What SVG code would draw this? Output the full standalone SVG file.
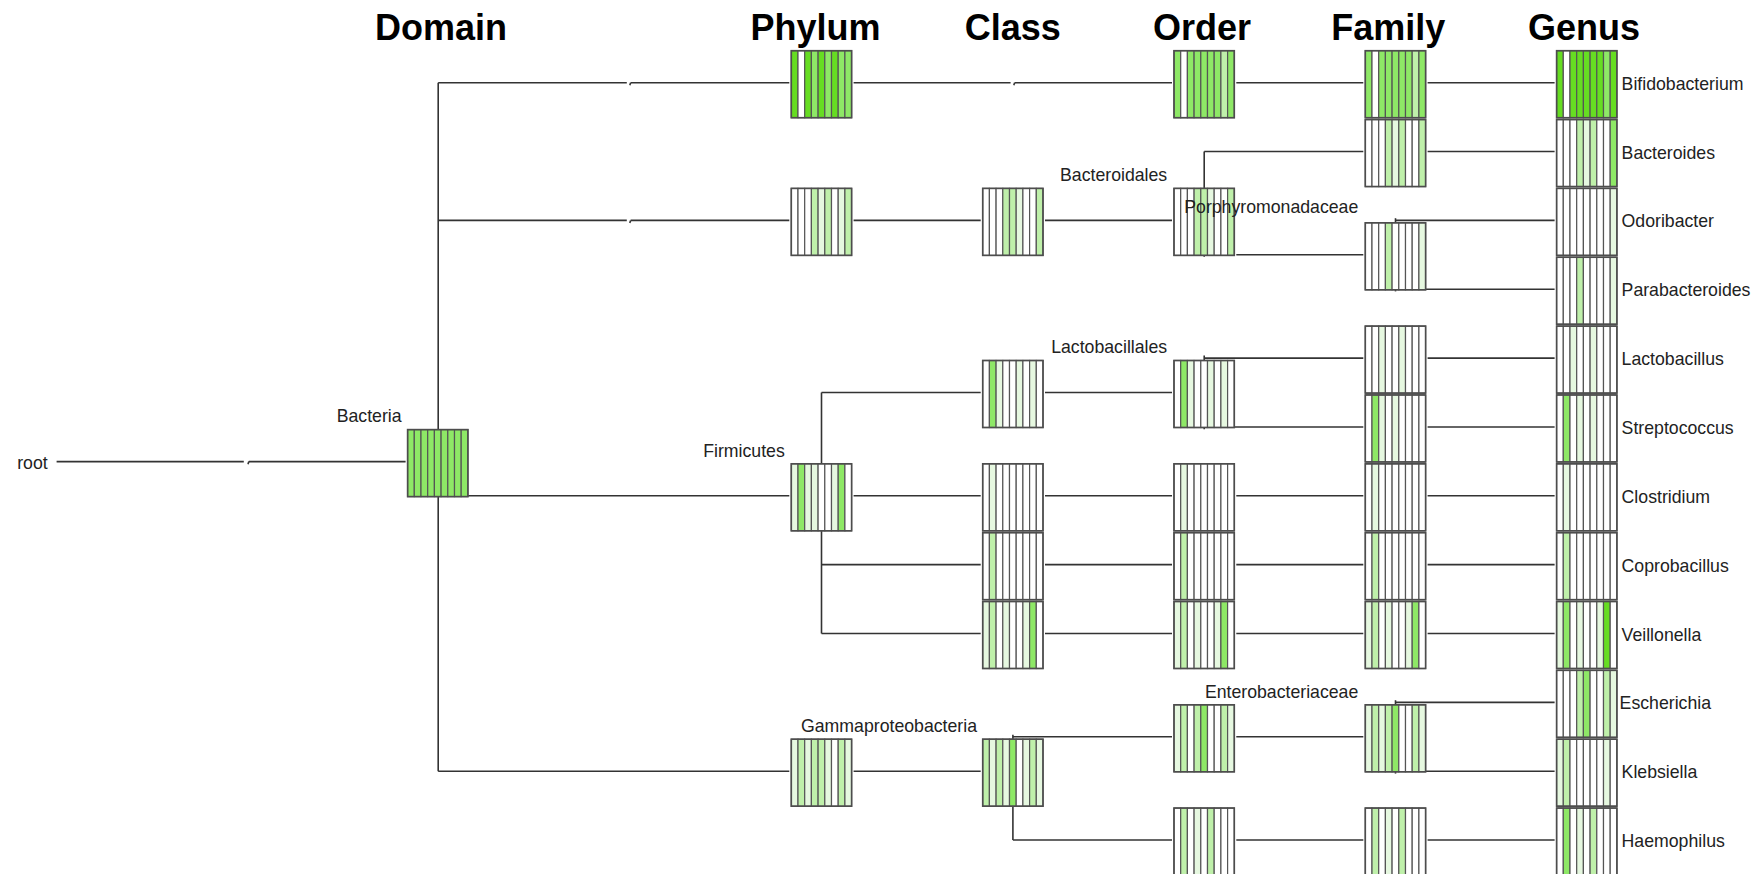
<svg xmlns="http://www.w3.org/2000/svg" width="1755" height="874" viewBox="0 0 1755 874">
<style>
.hdr{font-family:"Liberation Sans",Arial,sans-serif;font-weight:bold;font-size:36px;fill:#000}
.lbl{font-family:"Liberation Sans",Arial,sans-serif;font-size:17.7px;fill:#222}
.lblE{font-family:"Liberation Sans",Arial,sans-serif;font-size:17.7px;fill:#222;text-anchor:end}
.conn line{stroke:#333;stroke-width:1.6;stroke-linecap:butt}
.st{stroke:#555;stroke-width:1.2}
.B{fill:#66dd22}.M{fill:#8ee866}.L{fill:#bff0aa}.V{fill:#e6f8e0}.W{fill:#fff}
.frame{fill:none;stroke:#4d4d4d;stroke-width:1.6}
</style>
<defs>
<rect id="sB" class="st B" width="6.7" height="67"/>
<rect id="sM" class="st M" width="6.7" height="67"/>
<rect id="sL" class="st L" width="6.7" height="67"/>
<rect id="sV" class="st V" width="6.7" height="67"/>
<rect id="sW" class="st W" width="6.7" height="67"/>
<rect id="frame" class="frame" width="60.3" height="67"/>
</defs>
<rect width="1755" height="874" fill="#fff"/>

<g id="headers">
<text class="hdr" x="375" y="40">Domain</text>
<text class="hdr" x="750.4" y="40">Phylum</text>
<text class="hdr" x="964.7" y="40">Class</text>
<text class="hdr" x="1153" y="40">Order</text>
<text class="hdr" x="1331.3" y="40">Family</text>
<text class="hdr" x="1528" y="40">Genus</text>
</g>

<g id="connectors" class="conn">
<!-- root to Bacteria (collapsed level) -->
<line x1="56.6" y1="461.6" x2="243.8" y2="461.6"/>
<line x1="248.8" y1="461.6" x2="405.6" y2="461.6"/>
<line x1="248.8" y1="461.6" x2="248" y2="464.2"/>
<!-- Bacteria -->
<line x1="438.2" y1="82.7" x2="438.2" y2="771.2"/>
<line x1="438.2" y1="82.7" x2="626.8" y2="82.7"/>
<line x1="630.6" y1="82.7" x2="789.3" y2="82.7"/>
<line x1="630.6" y1="82.7" x2="629.8" y2="85.3"/>
<line x1="438.2" y1="220.4" x2="626.8" y2="220.4"/>
<line x1="630.6" y1="220.4" x2="789.3" y2="220.4"/>
<line x1="630.6" y1="220.4" x2="629.8" y2="223"/>
<line x1="438.2" y1="495.8" x2="789.3" y2="495.8"/>
<line x1="438.2" y1="771.2" x2="789.3" y2="771.2"/>
<!-- Phylum level -->
<line x1="853.6" y1="82.7" x2="1010.6" y2="82.7"/>
<line x1="1014.6" y1="82.7" x2="1172" y2="82.7"/>
<line x1="1014.6" y1="82.7" x2="1013.8" y2="85.3"/>
<line x1="853.6" y1="220.4" x2="980.7" y2="220.4"/>
<line x1="821.5" y1="392.5" x2="821.5" y2="633.5"/>
<line x1="821.5" y1="392.5" x2="980.7" y2="392.5"/>
<line x1="853.6" y1="495.8" x2="980.7" y2="495.8"/>
<line x1="821.5" y1="564.65" x2="980.7" y2="564.65"/>
<line x1="821.5" y1="633.5" x2="980.7" y2="633.5"/>
<line x1="853.6" y1="771.2" x2="980.7" y2="771.2"/>
<!-- Class level -->
<line x1="1045" y1="220.4" x2="1172" y2="220.4"/>
<line x1="1045" y1="392.5" x2="1172" y2="392.5"/>
<line x1="1045" y1="495.8" x2="1172" y2="495.8"/>
<line x1="1045" y1="564.65" x2="1172" y2="564.65"/>
<line x1="1045" y1="633.5" x2="1172" y2="633.5"/>
<line x1="1012.9" y1="734.8" x2="1012.9" y2="840.05"/>
<line x1="1012.9" y1="736.8" x2="1172" y2="736.8"/>
<line x1="1012.9" y1="840.05" x2="1172" y2="840.05"/>
<!-- Order level -->
<line x1="1236.3" y1="82.7" x2="1363.3" y2="82.7"/>
<line x1="1204.2" y1="151.55" x2="1204.2" y2="256.8"/>
<line x1="1204.2" y1="151.55" x2="1363.3" y2="151.55"/>
<line x1="1236.3" y1="254.8" x2="1363.3" y2="254.8"/>
<line x1="1204.2" y1="355.6" x2="1204.2" y2="429.2"/>
<line x1="1204.2" y1="358.1" x2="1363.3" y2="358.1"/>
<line x1="1204.2" y1="426.95" x2="1363.3" y2="426.95"/>
<line x1="1236.3" y1="495.8" x2="1363.3" y2="495.8"/>
<line x1="1236.3" y1="564.65" x2="1363.3" y2="564.65"/>
<line x1="1236.3" y1="633.5" x2="1363.3" y2="633.5"/>
<line x1="1236.3" y1="736.8" x2="1363.3" y2="736.8"/>
<line x1="1236.3" y1="840.05" x2="1363.3" y2="840.05"/>
<!-- Family level -->
<line x1="1427.6" y1="82.7" x2="1554.6" y2="82.7"/>
<line x1="1427.6" y1="151.55" x2="1554.6" y2="151.55"/>
<line x1="1395.5" y1="218.2" x2="1395.5" y2="291.4"/>
<line x1="1395.5" y1="220.4" x2="1554.6" y2="220.4"/>
<line x1="1395.5" y1="289.25" x2="1554.6" y2="289.25"/>
<line x1="1427.6" y1="358.1" x2="1554.6" y2="358.1"/>
<line x1="1427.6" y1="426.95" x2="1554.6" y2="426.95"/>
<line x1="1427.6" y1="495.8" x2="1554.6" y2="495.8"/>
<line x1="1427.6" y1="564.65" x2="1554.6" y2="564.65"/>
<line x1="1427.6" y1="633.5" x2="1554.6" y2="633.5"/>
<line x1="1395.5" y1="700.2" x2="1395.5" y2="773.6"/>
<line x1="1395.5" y1="702.35" x2="1554.6" y2="702.35"/>
<line x1="1395.5" y1="771.2" x2="1554.6" y2="771.2"/>
<line x1="1427.6" y1="840.05" x2="1554.6" y2="840.05"/>
</g>

<g id="n-root"><text class="lbl" x="17.2" y="468.6">root</text></g>

<g id="n-bacteria" transform="translate(407.6,429.6)">
<use href="#sM" x="0"/><use href="#sM" x="6.7"/><use href="#sM" x="13.4"/><use href="#sM" x="20.1"/><use href="#sM" x="26.8"/><use href="#sM" x="33.5"/><use href="#sM" x="40.2"/><use href="#sM" x="46.9"/><use href="#sM" x="53.6"/><use href="#frame"/>
<text class="lblE" x="-6" y="-7.3">Bacteria</text>
</g>

<!-- Phylum -->
<g id="n-actinobacteria" transform="translate(791.3,50.7)">
<use href="#sB" x="0"/><use href="#sW" x="6.7"/><use href="#sB" x="13.4"/><use href="#sM" x="20.1"/><use href="#sB" x="26.8"/><use href="#sM" x="33.5"/><use href="#sB" x="40.2"/><use href="#sM" x="46.9"/><use href="#sM" x="53.6"/><use href="#frame"/>
</g>
<g id="n-bacteroidetes" transform="translate(791.3,188.4)">
<use href="#sW" x="0"/><use href="#sW" x="6.7"/><use href="#sW" x="13.4"/><use href="#sL" x="20.1"/><use href="#sV" x="26.8"/><use href="#sL" x="33.5"/><use href="#sW" x="40.2"/><use href="#sV" x="46.9"/><use href="#sL" x="53.6"/><use href="#frame"/>
</g>
<g id="n-firmicutes" transform="translate(791.3,463.8)">
<use href="#sV" x="0"/><use href="#sM" x="6.7"/><use href="#sV" x="13.4"/><use href="#sV" x="20.1"/><use href="#sW" x="26.8"/><use href="#sW" x="33.5"/><use href="#sV" x="40.2"/><use href="#sM" x="46.9"/><use href="#sW" x="53.6"/><use href="#frame"/>
<text class="lblE" x="-6.5" y="-7.3">Firmicutes</text>
</g>
<g id="n-proteobacteria" transform="translate(791.3,739.2)">
<use href="#sV" x="0"/><use href="#sL" x="6.7"/><use href="#sV" x="13.4"/><use href="#sL" x="20.1"/><use href="#sL" x="26.8"/><use href="#sV" x="33.5"/><use href="#sW" x="40.2"/><use href="#sL" x="46.9"/><use href="#sV" x="53.6"/><use href="#frame"/>
</g>

<!-- Class -->
<g id="n-bacteroidia" transform="translate(982.7,188.4)">
<use href="#sW" x="0"/><use href="#sW" x="6.7"/><use href="#sW" x="13.4"/><use href="#sL" x="20.1"/><use href="#sL" x="26.8"/><use href="#sV" x="33.5"/><use href="#sW" x="40.2"/><use href="#sW" x="46.9"/><use href="#sL" x="53.6"/><use href="#frame"/>
</g>
<g id="n-bacilli" transform="translate(982.7,360.5)">
<use href="#sW" x="0"/><use href="#sM" x="6.7"/><use href="#sV" x="13.4"/><use href="#sW" x="20.1"/><use href="#sW" x="26.8"/><use href="#sV" x="33.5"/><use href="#sW" x="40.2"/><use href="#sV" x="46.9"/><use href="#sW" x="53.6"/><use href="#frame"/>
</g>
<g id="n-clostridia" transform="translate(982.7,463.8)">
<use href="#sW" x="0"/><use href="#sV" x="6.7"/><use href="#sW" x="13.4"/><use href="#sW" x="20.1"/><use href="#sW" x="26.8"/><use href="#sW" x="33.5"/><use href="#sW" x="40.2"/><use href="#sW" x="46.9"/><use href="#sW" x="53.6"/><use href="#frame"/>
</g>
<g id="n-erysipelotrichi" transform="translate(982.7,532.65)">
<use href="#sW" x="0"/><use href="#sL" x="6.7"/><use href="#sW" x="13.4"/><use href="#sW" x="20.1"/><use href="#sW" x="26.8"/><use href="#sW" x="33.5"/><use href="#sW" x="40.2"/><use href="#sW" x="46.9"/><use href="#sW" x="53.6"/><use href="#frame"/>
</g>
<g id="n-negativicutes" transform="translate(982.7,601.5)">
<use href="#sV" x="0"/><use href="#sL" x="6.7"/><use href="#sW" x="13.4"/><use href="#sV" x="20.1"/><use href="#sW" x="26.8"/><use href="#sW" x="33.5"/><use href="#sV" x="40.2"/><use href="#sM" x="46.9"/><use href="#sW" x="53.6"/><use href="#frame"/>
</g>
<g id="n-gammaproteobacteria" transform="translate(982.7,739.2)">
<use href="#sL" x="0"/><use href="#sV" x="6.7"/><use href="#sL" x="13.4"/><use href="#sV" x="20.1"/><use href="#sM" x="26.8"/><use href="#sW" x="33.5"/><use href="#sV" x="40.2"/><use href="#sL" x="46.9"/><use href="#sV" x="53.6"/><use href="#frame"/>
<text class="lblE" x="-5.7" y="-7.5">Gammaproteobacteria</text>
</g>

<!-- Order -->
<g id="n-bifidobacteriales" transform="translate(1174,50.7)">
<use href="#sM" x="0"/><use href="#sW" x="6.7"/><use href="#sM" x="13.4"/><use href="#sM" x="20.1"/><use href="#sM" x="26.8"/><use href="#sM" x="33.5"/><use href="#sM" x="40.2"/><use href="#sL" x="46.9"/><use href="#sM" x="53.6"/><use href="#frame"/>
</g>
<g id="n-bacteroidales" transform="translate(1174,188.4)">
<use href="#sW" x="0"/><use href="#sW" x="6.7"/><use href="#sW" x="13.4"/><use href="#sL" x="20.1"/><use href="#sL" x="26.8"/><use href="#sV" x="33.5"/><use href="#sW" x="40.2"/><use href="#sW" x="46.9"/><use href="#sL" x="53.6"/><use href="#frame"/>
<text class="lblE" x="-6.8" y="-7">Bacteroidales</text>
</g>
<g id="n-lactobacillales" transform="translate(1174,360.5)">
<use href="#sW" x="0"/><use href="#sM" x="6.7"/><use href="#sV" x="13.4"/><use href="#sW" x="20.1"/><use href="#sW" x="26.8"/><use href="#sV" x="33.5"/><use href="#sW" x="40.2"/><use href="#sV" x="46.9"/><use href="#sW" x="53.6"/><use href="#frame"/>
<text class="lblE" x="-6.8" y="-7.8">Lactobacillales</text>
</g>
<g id="n-clostridiales" transform="translate(1174,463.8)">
<use href="#sW" x="0"/><use href="#sV" x="6.7"/><use href="#sW" x="13.4"/><use href="#sW" x="20.1"/><use href="#sW" x="26.8"/><use href="#sW" x="33.5"/><use href="#sW" x="40.2"/><use href="#sW" x="46.9"/><use href="#sW" x="53.6"/><use href="#frame"/>
</g>
<g id="n-erysipelotrichales" transform="translate(1174,532.65)">
<use href="#sW" x="0"/><use href="#sL" x="6.7"/><use href="#sW" x="13.4"/><use href="#sW" x="20.1"/><use href="#sW" x="26.8"/><use href="#sW" x="33.5"/><use href="#sW" x="40.2"/><use href="#sW" x="46.9"/><use href="#sW" x="53.6"/><use href="#frame"/>
</g>
<g id="n-selenomonadales" transform="translate(1174,601.5)">
<use href="#sV" x="0"/><use href="#sL" x="6.7"/><use href="#sW" x="13.4"/><use href="#sV" x="20.1"/><use href="#sW" x="26.8"/><use href="#sW" x="33.5"/><use href="#sV" x="40.2"/><use href="#sM" x="46.9"/><use href="#sW" x="53.6"/><use href="#frame"/>
</g>
<g id="n-enterobacteriales" transform="translate(1174,704.8)">
<use href="#sV" x="0"/><use href="#sL" x="6.7"/><use href="#sW" x="13.4"/><use href="#sL" x="20.1"/><use href="#sM" x="26.8"/><use href="#sW" x="33.5"/><use href="#sW" x="40.2"/><use href="#sL" x="46.9"/><use href="#sV" x="53.6"/><use href="#frame"/>
</g>
<g id="n-pasteurellales" transform="translate(1174,808.05)">
<use href="#sW" x="0"/><use href="#sL" x="6.7"/><use href="#sW" x="13.4"/><use href="#sV" x="20.1"/><use href="#sW" x="26.8"/><use href="#sL" x="33.5"/><use href="#sW" x="40.2"/><use href="#sW" x="46.9"/><use href="#sW" x="53.6"/><use href="#frame"/>
</g>

<!-- Family -->
<g id="n-bifidobacteriaceae" transform="translate(1365.3,50.7)">
<use href="#sM" x="0"/><use href="#sW" x="6.7"/><use href="#sM" x="13.4"/><use href="#sM" x="20.1"/><use href="#sM" x="26.8"/><use href="#sM" x="33.5"/><use href="#sM" x="40.2"/><use href="#sL" x="46.9"/><use href="#sM" x="53.6"/><use href="#frame"/>
</g>
<g id="n-bacteroidaceae" transform="translate(1365.3,119.55)">
<use href="#sW" x="0"/><use href="#sW" x="6.7"/><use href="#sW" x="13.4"/><use href="#sL" x="20.1"/><use href="#sV" x="26.8"/><use href="#sL" x="33.5"/><use href="#sW" x="40.2"/><use href="#sW" x="46.9"/><use href="#sL" x="53.6"/><use href="#frame"/>
</g>
<g id="n-porphyromonadaceae" transform="translate(1365.3,222.8)">
<use href="#sW" x="0"/><use href="#sW" x="6.7"/><use href="#sW" x="13.4"/><use href="#sL" x="20.1"/><use href="#sW" x="26.8"/><use href="#sW" x="33.5"/><use href="#sW" x="40.2"/><use href="#sW" x="46.9"/><use href="#sV" x="53.6"/><use href="#frame"/>
</g>
<g id="n-lactobacillaceae" transform="translate(1365.3,326.1)">
<use href="#sW" x="0"/><use href="#sW" x="6.7"/><use href="#sV" x="13.4"/><use href="#sW" x="20.1"/><use href="#sW" x="26.8"/><use href="#sV" x="33.5"/><use href="#sW" x="40.2"/><use href="#sW" x="46.9"/><use href="#sW" x="53.6"/><use href="#frame"/>
</g>
<g id="n-streptococcaceae" transform="translate(1365.3,394.95)">
<use href="#sW" x="0"/><use href="#sM" x="6.7"/><use href="#sV" x="13.4"/><use href="#sW" x="20.1"/><use href="#sV" x="26.8"/><use href="#sW" x="33.5"/><use href="#sW" x="40.2"/><use href="#sW" x="46.9"/><use href="#sW" x="53.6"/><use href="#frame"/>
</g>
<g id="n-clostridiaceae" transform="translate(1365.3,463.8)">
<use href="#sW" x="0"/><use href="#sV" x="6.7"/><use href="#sW" x="13.4"/><use href="#sW" x="20.1"/><use href="#sW" x="26.8"/><use href="#sW" x="33.5"/><use href="#sW" x="40.2"/><use href="#sW" x="46.9"/><use href="#sW" x="53.6"/><use href="#frame"/>
</g>
<g id="n-erysipelotrichaceae" transform="translate(1365.3,532.65)">
<use href="#sW" x="0"/><use href="#sL" x="6.7"/><use href="#sW" x="13.4"/><use href="#sW" x="20.1"/><use href="#sW" x="26.8"/><use href="#sW" x="33.5"/><use href="#sW" x="40.2"/><use href="#sW" x="46.9"/><use href="#sW" x="53.6"/><use href="#frame"/>
</g>
<g id="n-veillonellaceae" transform="translate(1365.3,601.5)">
<use href="#sV" x="0"/><use href="#sL" x="6.7"/><use href="#sW" x="13.4"/><use href="#sV" x="20.1"/><use href="#sW" x="26.8"/><use href="#sW" x="33.5"/><use href="#sV" x="40.2"/><use href="#sM" x="46.9"/><use href="#sW" x="53.6"/><use href="#frame"/>
</g>
<g id="n-enterobacteriaceae" transform="translate(1365.3,704.8)">
<use href="#sV" x="0"/><use href="#sL" x="6.7"/><use href="#sV" x="13.4"/><use href="#sL" x="20.1"/><use href="#sM" x="26.8"/><use href="#sW" x="33.5"/><use href="#sW" x="40.2"/><use href="#sL" x="46.9"/><use href="#sV" x="53.6"/><use href="#frame"/>
<text class="lblE" x="-7" y="-6.5">Enterobacteriaceae</text>
</g>
<g id="n-pasteurellaceae" transform="translate(1365.3,808.05)">
<use href="#sW" x="0"/><use href="#sL" x="6.7"/><use href="#sW" x="13.4"/><use href="#sV" x="20.1"/><use href="#sW" x="26.8"/><use href="#sL" x="33.5"/><use href="#sW" x="40.2"/><use href="#sW" x="46.9"/><use href="#sW" x="53.6"/><use href="#frame"/>
</g>

<!-- Porphyromonadaceae label drawn above the order box -->
<g id="lbl-porphyromonadaceae"><text class="lblE" x="1358.3" y="213.3">Porphyromonadaceae</text></g>

<!-- Genus -->
<g id="n-bifidobacterium" transform="translate(1556.6,50.7)">
<use href="#sB" x="0"/><use href="#sW" x="6.7"/><use href="#sB" x="13.4"/><use href="#sB" x="20.1"/><use href="#sB" x="26.8"/><use href="#sB" x="33.5"/><use href="#sB" x="40.2"/><use href="#sM" x="46.9"/><use href="#sB" x="53.6"/><use href="#frame"/>
<text class="lbl" x="65" y="39">Bifidobacterium</text>
</g>
<g id="n-bacteroides" transform="translate(1556.6,119.55)">
<use href="#sW" x="0"/><use href="#sW" x="6.7"/><use href="#sW" x="13.4"/><use href="#sL" x="20.1"/><use href="#sV" x="26.8"/><use href="#sL" x="33.5"/><use href="#sW" x="40.2"/><use href="#sW" x="46.9"/><use href="#sM" x="53.6"/><use href="#frame"/>
<text class="lbl" x="65" y="39">Bacteroides</text>
</g>
<g id="n-odoribacter" transform="translate(1556.6,188.4)">
<use href="#sW" x="0"/><use href="#sW" x="6.7"/><use href="#sW" x="13.4"/><use href="#sW" x="20.1"/><use href="#sW" x="26.8"/><use href="#sW" x="33.5"/><use href="#sW" x="40.2"/><use href="#sW" x="46.9"/><use href="#sV" x="53.6"/><use href="#frame"/>
<text class="lbl" x="65" y="39">Odoribacter</text>
</g>
<g id="n-parabacteroides" transform="translate(1556.6,257.25)">
<use href="#sW" x="0"/><use href="#sW" x="6.7"/><use href="#sW" x="13.4"/><use href="#sL" x="20.1"/><use href="#sW" x="26.8"/><use href="#sW" x="33.5"/><use href="#sW" x="40.2"/><use href="#sW" x="46.9"/><use href="#sV" x="53.6"/><use href="#frame"/>
<text class="lbl" x="65" y="39">Parabacteroides</text>
</g>
<g id="n-lactobacillus" transform="translate(1556.6,326.1)">
<use href="#sW" x="0"/><use href="#sW" x="6.7"/><use href="#sV" x="13.4"/><use href="#sW" x="20.1"/><use href="#sW" x="26.8"/><use href="#sV" x="33.5"/><use href="#sW" x="40.2"/><use href="#sW" x="46.9"/><use href="#sW" x="53.6"/><use href="#frame"/>
<text class="lbl" x="65" y="39">Lactobacillus</text>
</g>
<g id="n-streptococcus" transform="translate(1556.6,394.95)">
<use href="#sW" x="0"/><use href="#sM" x="6.7"/><use href="#sW" x="13.4"/><use href="#sV" x="20.1"/><use href="#sW" x="26.8"/><use href="#sV" x="33.5"/><use href="#sW" x="40.2"/><use href="#sW" x="46.9"/><use href="#sW" x="53.6"/><use href="#frame"/>
<text class="lbl" x="65" y="39">Streptococcus</text>
</g>
<g id="n-clostridium" transform="translate(1556.6,463.8)">
<use href="#sW" x="0"/><use href="#sV" x="6.7"/><use href="#sW" x="13.4"/><use href="#sW" x="20.1"/><use href="#sW" x="26.8"/><use href="#sW" x="33.5"/><use href="#sW" x="40.2"/><use href="#sW" x="46.9"/><use href="#sW" x="53.6"/><use href="#frame"/>
<text class="lbl" x="65" y="39">Clostridium</text>
</g>
<g id="n-coprobacillus" transform="translate(1556.6,532.65)">
<use href="#sW" x="0"/><use href="#sL" x="6.7"/><use href="#sW" x="13.4"/><use href="#sW" x="20.1"/><use href="#sW" x="26.8"/><use href="#sW" x="33.5"/><use href="#sW" x="40.2"/><use href="#sW" x="46.9"/><use href="#sW" x="53.6"/><use href="#frame"/>
<text class="lbl" x="65" y="39">Coprobacillus</text>
</g>
<g id="n-veillonella" transform="translate(1556.6,601.5)">
<use href="#sV" x="0"/><use href="#sM" x="6.7"/><use href="#sW" x="13.4"/><use href="#sV" x="20.1"/><use href="#sW" x="26.8"/><use href="#sW" x="33.5"/><use href="#sV" x="40.2"/><use href="#sB" x="46.9"/><use href="#sW" x="53.6"/><use href="#frame"/>
<text class="lbl" x="65" y="39">Veillonella</text>
</g>
<g id="n-escherichia" transform="translate(1556.6,670.35)">
<use href="#sW" x="0"/><use href="#sW" x="6.7"/><use href="#sW" x="13.4"/><use href="#sL" x="20.1"/><use href="#sM" x="26.8"/><use href="#sW" x="33.5"/><use href="#sW" x="40.2"/><use href="#sL" x="46.9"/><use href="#sV" x="53.6"/><use href="#frame"/>
<text class="lbl" x="63" y="39">Escherichia</text>
</g>
<g id="n-klebsiella" transform="translate(1556.6,739.2)">
<use href="#sV" x="0"/><use href="#sL" x="6.7"/><use href="#sW" x="13.4"/><use href="#sW" x="20.1"/><use href="#sW" x="26.8"/><use href="#sW" x="33.5"/><use href="#sW" x="40.2"/><use href="#sV" x="46.9"/><use href="#sW" x="53.6"/><use href="#frame"/>
<text class="lbl" x="65" y="39">Klebsiella</text>
</g>
<g id="n-haemophilus" transform="translate(1556.6,808.05)">
<use href="#sW" x="0"/><use href="#sM" x="6.7"/><use href="#sW" x="13.4"/><use href="#sV" x="20.1"/><use href="#sW" x="26.8"/><use href="#sL" x="33.5"/><use href="#sW" x="40.2"/><use href="#sW" x="46.9"/><use href="#sW" x="53.6"/><use href="#frame"/>
<text class="lbl" x="65" y="39">Haemophilus</text>
</g>
</svg>
